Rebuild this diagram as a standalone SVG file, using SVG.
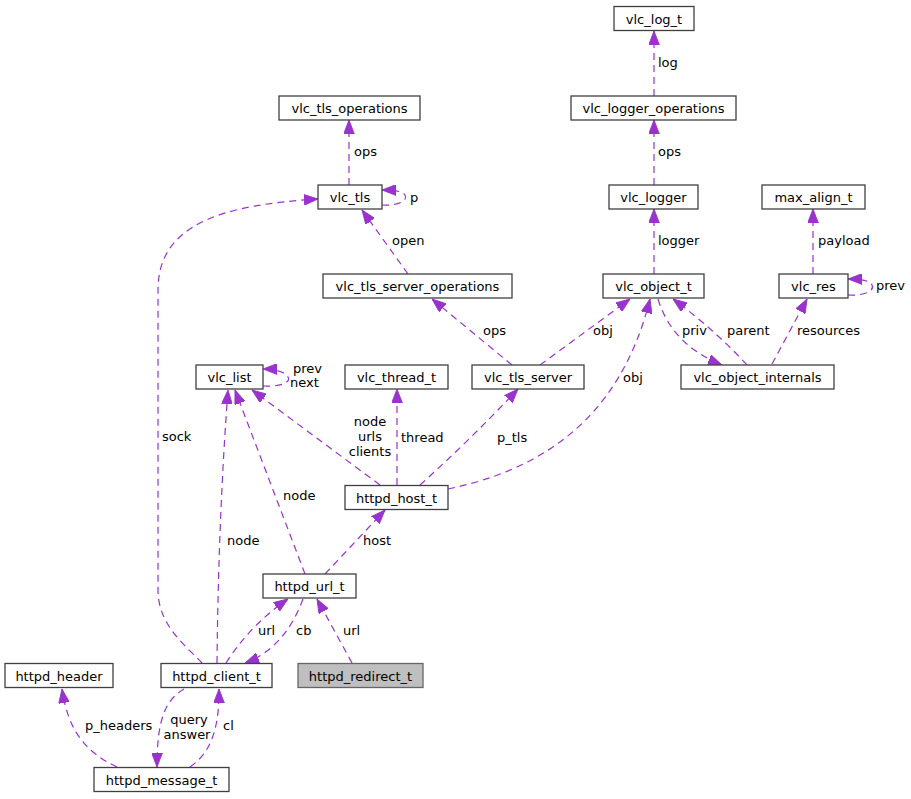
<svg xmlns="http://www.w3.org/2000/svg" width="911" height="799" viewBox="0 0 911 799">
<style>
text{font-family:"DejaVu Sans","Liberation Sans",sans-serif;font-size:13px;fill:#000}
.n rect{fill:#fff;stroke:#404040;stroke-width:1.3}
.n text{text-anchor:middle}
.n.hl rect{fill:#bfbfbf;stroke:#666}
.e path{fill:none;stroke:#9a32cd;stroke-width:1.2;stroke-dasharray:7,5;marker-end:url(#ah)}
.m{text-anchor:middle}
</style>
<defs>
<marker id="ah" markerUnits="userSpaceOnUse" markerWidth="14" markerHeight="11" viewBox="0 0 13 10" refX="13" refY="5" orient="auto">
<path d="M0,0 L13,5 L0,10 z" fill="#9a32cd" stroke="#9a32cd" stroke-width="0.8"/>
</marker>
</defs>
<rect width="911" height="799" fill="#fff"/>
<g id="edges" class="e">
<path d="M654,96 L654,31"/><text x="658" y="67">log</text>
<path d="M654,185 L654,120"/><text x="658" y="156">ops</text>
<path d="M654,274 L654,209"/><text x="658" y="245">logger</text>
<path d="M349,185 L349,120"/><text x="354" y="156">ops</text>
<path d="M382,205 C400,206 408,200 405,195 C402,191 394,190 382,190"/><text x="410" y="202">p</text>
<path d="M408,274 L362,210"/><text x="392" y="245">open</text>
<path d="M813,274 L813,209"/><text x="818" y="245">payload</text>
<path d="M848,295 C866,296 875,290 872,285 C869,280 860,279 848,279"/><text x="876" y="290">prev</text>
<path d="M512,365 L432,299"/><text x="483" y="335">ops</text>
<path d="M540,365 L630,299"/><text x="593" y="335">obj</text>
<path d="M658,299 Q672,345 722,365"/><text x="682" y="335">priv</text>
<path d="M747,365 Q715,330 673,299"/><text x="727" y="335">parent</text>
<path d="M772,364 L807,299"/><text x="797" y="335">resources</text>
<path d="M263,386 C282,387 291,382 288,377 C285,372 276,369 263,369"/><text x="293" y="373">prev</text><text x="290" y="387">next</text>
<path d="M380,485 L252,390"/><text class="m" x="370" y="426">node</text><text class="m" x="370" y="441">urls</text><text class="m" x="370" y="456">clients</text>
<path d="M397,485 L397,389"/><text x="401" y="442">thread</text>
<path d="M420,485 Q470,440 518,389"/><text x="497" y="442">p_tls</text>
<path d="M448,489 C540,470 620,420 650,299"/><text x="623" y="382">obj</text>
<path d="M325,574 L385,510"/><text x="363" y="545">host</text>
<path d="M305,574 L235,390"/><text x="283" y="500">node</text>
<path d="M217,663 C218,560 222,470 228,390"/><text x="227" y="545">node</text>
<path d="M202,663 C185,645 158,625 158,590 L158,290 C158,225 220,205 318,199"/><text x="162" y="441">sock</text>
<path d="M226,663 Q250,625 288,599"/><text x="258" y="635">url</text>
<path d="M303,599 Q285,648 245,663"/><text x="296" y="635">cb</text>
<path d="M352,663 L317,599"/><text x="343" y="635">url</text>
<path d="M117,767 C85,752 68,730 62,689"/><text x="85" y="730">p_headers</text>
<path d="M184,689 C165,700 157,720 157,767"/><text class="m" x="189" y="724">query</text><text class="m" x="187" y="739">answer</text>
<path d="M190,767 C215,750 219,720 219,689"/><text x="223" y="730">cl</text>
</g>
<g id="node-vlc_log_t" class="n"><rect x="614" y="6.5" width="80" height="24"/><text x="654" y="23.5">vlc_log_t</text></g>
<g id="node-vlc_logger_operations" class="n"><rect x="571" y="96" width="165" height="24"/><text x="653.5" y="113">vlc_logger_operations</text></g>
<g id="node-vlc_tls_operations" class="n"><rect x="279" y="96" width="141" height="24"/><text x="349.5" y="113">vlc_tls_operations</text></g>
<g id="node-vlc_tls" class="n"><rect x="318" y="185" width="64" height="24"/><text x="350" y="202">vlc_tls</text></g>
<g id="node-vlc_logger" class="n"><rect x="609" y="185" width="89" height="24"/><text x="653.5" y="202">vlc_logger</text></g>
<g id="node-max_align_t" class="n"><rect x="762" y="185" width="103" height="24"/><text x="813.5" y="202">max_align_t</text></g>
<g id="node-vlc_tls_server_operations" class="n"><rect x="323" y="274" width="189" height="24"/><text x="417.5" y="291">vlc_tls_server_operations</text></g>
<g id="node-vlc_object_t" class="n"><rect x="603" y="274" width="101" height="24"/><text x="653.5" y="291">vlc_object_t</text></g>
<g id="node-vlc_res" class="n"><rect x="779" y="274" width="69" height="24"/><text x="813.5" y="291">vlc_res</text></g>
<g id="node-vlc_list" class="n"><rect x="196" y="365" width="67" height="24"/><text x="229.5" y="382">vlc_list</text></g>
<g id="node-vlc_thread_t" class="n"><rect x="345" y="365" width="103" height="24"/><text x="396.5" y="382">vlc_thread_t</text></g>
<g id="node-vlc_tls_server" class="n"><rect x="472" y="365" width="112" height="24"/><text x="528" y="382">vlc_tls_server</text></g>
<g id="node-vlc_object_internals" class="n"><rect x="681" y="365" width="153" height="24"/><text x="757.5" y="382">vlc_object_internals</text></g>
<g id="node-httpd_host_t" class="n"><rect x="345" y="485.5" width="103" height="24"/><text x="396.5" y="502.5">httpd_host_t</text></g>
<g id="node-httpd_url_t" class="n"><rect x="263" y="574" width="93" height="24"/><text x="309.5" y="591">httpd_url_t</text></g>
<g id="node-httpd_header" class="n"><rect x="5" y="663.5" width="108" height="24"/><text x="59" y="680.5">httpd_header</text></g>
<g id="node-httpd_client_t" class="n"><rect x="161" y="663.5" width="111" height="24"/><text x="216.5" y="680.5">httpd_client_t</text></g>
<g id="node-httpd_redirect_t" class="n hl"><rect x="298" y="663.5" width="125" height="24"/><text x="360.5" y="680.5">httpd_redirect_t</text></g>
<g id="node-httpd_message_t" class="n"><rect x="94" y="767.5" width="135" height="24"/><text x="161.5" y="784.5">httpd_message_t</text></g>
</svg>
